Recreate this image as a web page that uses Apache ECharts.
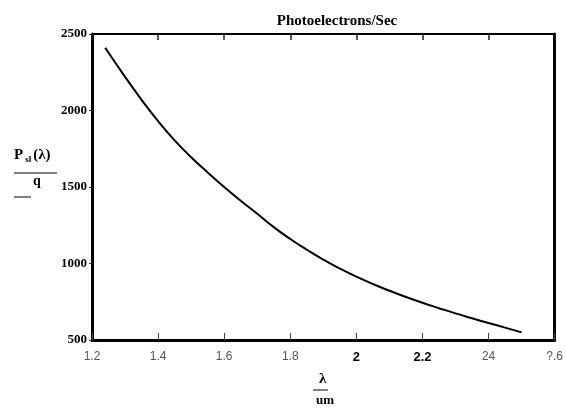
<!DOCTYPE html>
<html>
<head>
<meta charset="utf-8">
<script src="https://cdn.jsdelivr.net/npm/echarts@6/dist/echarts.min.js"></script>
<style>
  html, body { margin: 0; padding: 0; background: #fff; }
  #chart { width: 566px; height: 411px; }
</style>
</head>
<body>
<div id="chart"></div>
<script>
// wavelength (um) and photoelectrons/sec
const lambda = [1.24, 1.3, 1.35, 1.4, 1.45, 1.5, 1.55, 1.6, 1.65, 1.7, 1.75, 1.8, 1.85, 1.9,
  1.95, 2.0, 2.05, 2.1, 2.15, 2.2, 2.25, 2.3, 2.35, 2.4, 2.45, 2.5]
const photo = [2410, 2220, 2070, 1930, 1805, 1695, 1595, 1500, 1410, 1325, 1238, 1160, 1090, 1025,
  967, 914, 866, 822, 781, 743, 708, 674, 642, 611, 581, 550]
// tick labels as printed on the scan
const xTickLabels = ['1.2', '1.4', '1.6', '1.8', '2', '2.2', '24', '?.6']
const yTicks = [500, 1000, 1500, 2000, 2500]

const chart = echarts.init(document.getElementById('chart'))

const serif = 'Liberation Serif'
const boldLabels = ['2', '2.2']

const option = {
  animation: false,
  backgroundColor: '#fff',
  title: {
    text: 'Photoelectrons/Sec',
    left: 332,
    top: 9,
    textAlign: 'center',
    textStyle: { fontFamily: serif, fontWeight: 'bold', fontSize: 15, color: '#000' }
  },
  grid: { left: 92, right: 6, top: 34, bottom: 71 },
  xAxis: [{
    type: 'value',
    position: 'bottom',
    min: 1.2,
    max: 2.6,
    interval: 0.2,
    axisLine: { lineStyle: { color: '#000', width: 3 } },
    axisTick: { inside: true, length: 7, lineStyle: { color: '#444', width: 1 } },
    splitLine: { show: false },
    axisLabel: {
      margin: 11,
      formatter: function (v) {
        const t = xTickLabels[Math.round((v - 1.2) / 0.2)] || ''
        return boldLabels.indexOf(t) >= 0 ? '{b|' + t + '}' : '{n|' + t + '}'
      },
      rich: {
        n: { fontFamily: 'Liberation Sans', fontSize: 12, color: '#555' },
        b: { fontFamily: 'Liberation Sans', fontSize: 13, fontWeight: 'bold', color: '#000' }
      }
    }
  }, {
    type: 'value',
    position: 'top',
    min: 1.2,
    max: 2.6,
    interval: 0.2,
    axisLine: { lineStyle: { color: '#000', width: 2 } },
    axisTick: { inside: true, length: 6, lineStyle: { color: '#222', width: 1.5 } },
    axisLabel: { show: false },
    splitLine: { show: false }
  }],
  yAxis: [{
    type: 'value',
    position: 'left',
    min: yTicks[0],
    max: yTicks[yTicks.length - 1],
    interval: 500,
    axisLine: { show: true, lineStyle: { color: '#000', width: 3 } },
    axisTick: { show: true, length: 3, lineStyle: { color: '#333' } },
    splitLine: { show: false },
    axisLabel: {
      margin: 5,
      fontFamily: serif,
      fontWeight: 'bold',
      fontSize: 13,
      color: '#000',
      formatter: v => String(v)
    }
  }, {
    type: 'value',
    position: 'right',
    min: yTicks[0],
    max: yTicks[yTicks.length - 1],
    interval: 500,
    axisLine: { show: true, lineStyle: { color: '#000', width: 3 } },
    axisTick: { show: false },
    axisLabel: { show: false },
    splitLine: { show: false }
  }],
  graphic: [
    // y label: P_sl(λ) / q
    {
      type: 'text', left: 14, top: 148,
      style: {
        text: '{p|P}{s|sl}{p|(λ)}',
        rich: {
          p: { fontFamily: serif, fontWeight: 'bold', fontSize: 15, fill: '#000' },
          s: { fontFamily: serif, fontWeight: 'bold', fontSize: 9, fill: '#000', verticalAlign: 'bottom', padding: [8, 2, 0, 2] }
        }
      }
    },
    { type: 'line', shape: { x1: 14, y1: 173, x2: 57, y2: 173 }, style: { stroke: '#000', lineWidth: 1 } },
    {
      type: 'text', left: 33, top: 174,
      style: { text: 'q', fontFamily: serif, fontWeight: 'bold', fontSize: 14, fill: '#000' }
    },
    { type: 'line', shape: { x1: 14, y1: 197, x2: 31, y2: 197 }, style: { stroke: '#000', lineWidth: 1 } },
    // x label: λ / um
    {
      type: 'text', left: 319, top: 372,
      style: { text: 'λ', fontFamily: serif, fontWeight: 'bold', fontSize: 15, fill: '#000' }
    },
    { type: 'line', shape: { x1: 313, y1: 390, x2: 328, y2: 390 }, style: { stroke: '#000', lineWidth: 1 } },
    {
      type: 'text', left: 316, top: 394,
      style: { text: 'um', fontFamily: serif, fontWeight: 'bold', fontSize: 13, fill: '#000' }
    }
  ],
  series: [{
    type: 'line',
    xAxisIndex: 0,
    yAxisIndex: 0,
    smooth: true,
    showSymbol: false,
    lineStyle: { color: '#000', width: 2 },
    data: lambda.map((l, i) => [l, photo[i]])
  }]
}

chart.setOption(option)
</script>
</body>
</html>
